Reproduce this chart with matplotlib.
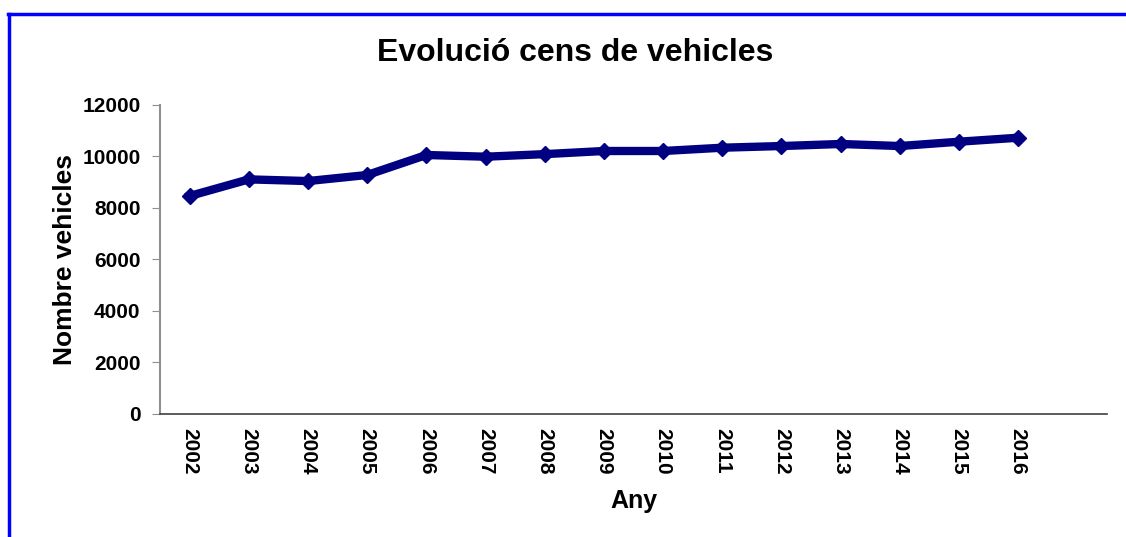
import matplotlib
matplotlib.use("Agg")
import matplotlib.pyplot as plt
from matplotlib.lines import Line2D

years = ['2002', '2003', '2004', '2005', '2006', '2007', '2008', '2009',
         '2010', '2011', '2012', '2013', '2014', '2015', '2016']
vehicles = [8454, 9100, 9035, 9270, 10047, 9980, 10080, 10202,
            10202, 10330, 10395, 10474, 10395, 10563, 10718]

plt.rcParams['font.family'] = ['Liberation Sans', 'DejaVu Sans']
plt.rcParams['font.weight'] = 'bold'

fig = plt.figure(figsize=(11.26, 5.37), dpi=100)
ax = fig.add_axes([160 / 1126, 1 - 413.7 / 537, (1107 - 160) / 1126, (413.7 - 104.7) / 537])

x = list(range(len(years)))
ax.plot(x, vehicles, color='#000080', linewidth=6, marker='D', markersize=8,
        solid_joinstyle='round')

ax.set_xlim(-0.5, len(years) + 0.5)
ax.set_ylim(0, 12000)
ax.set_yticks(range(0, 12001, 2000))
ax.set_xticks(x)
ax.set_xticklabels(years, rotation=270, fontsize=15, fontweight='bold')
ax.tick_params(axis='x', length=0, pad=10)
ax.tick_params(axis='y', length=6, color='#909090', labelsize=15, pad=8)
for lbl in ax.get_yticklabels():
    lbl.set_fontweight('bold')

ax.spines['top'].set_visible(False)
ax.spines['right'].set_visible(False)
ax.spines['left'].set_color('#909090')
ax.spines['left'].set_linewidth(1.5)
ax.spines['bottom'].set_color('#404040')
ax.spines['bottom'].set_linewidth(1.2)

ax.set_xlabel('Any', fontsize=18, fontweight='bold', labelpad=11)
ax.set_ylabel('Nombre vehicles', fontsize=19, fontweight='bold', labelpad=4)
fig.text(575 / 1126, 1 - 53 / 537, 'Evolució cens de vehicles', ha='center', va='center',
         fontsize=23, fontweight='bold')

# blue frame (top and left edges)
fig.add_artist(Line2D([8 / 1126, 1], [1 - 13.5 / 537, 1 - 13.5 / 537], color='#0000FF',
                      linewidth=2.5, transform=fig.transFigure))
fig.add_artist(Line2D([9 / 1126, 9 / 1126], [0, 1 - 13.5 / 537], color='#0000FF',
                      linewidth=2.5, transform=fig.transFigure))

fig.savefig('out.png', dpi=100)
